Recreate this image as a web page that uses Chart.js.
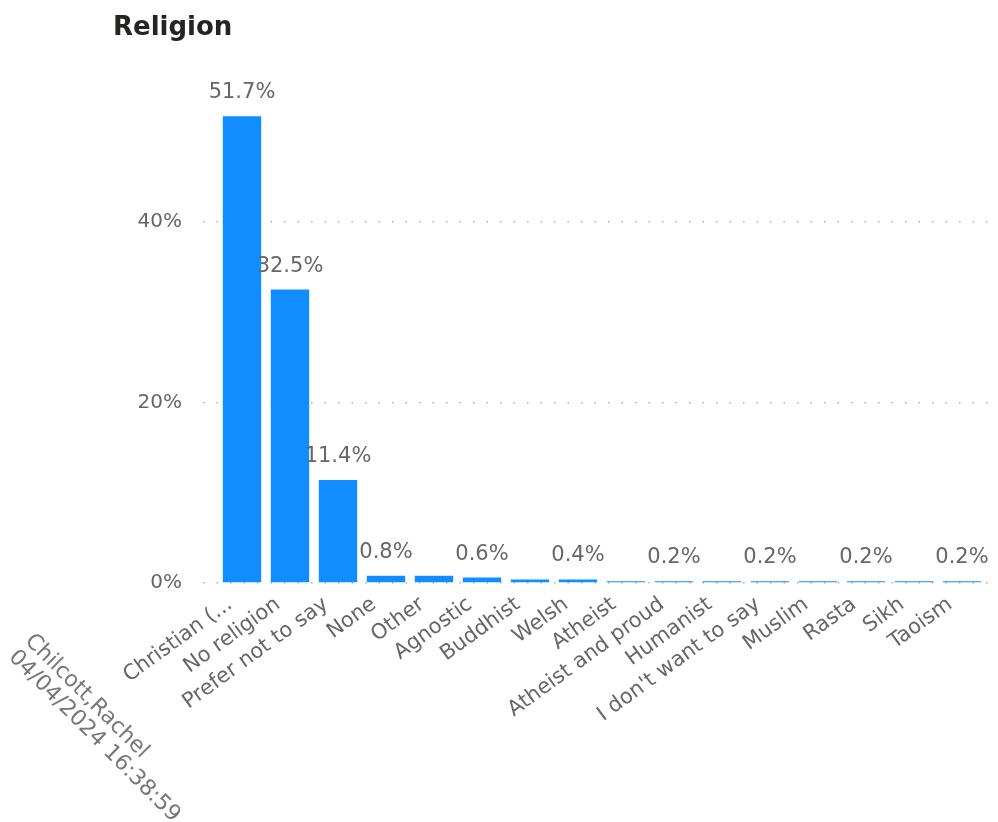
<!DOCTYPE html>
<html>
<head>
<meta charset="utf-8">
<script src="https://cdn.jsdelivr.net/npm/chart.js@4.4.1/dist/chart.umd.min.js"></script>
<style>
  html, body { margin: 0; padding: 0; background: #fff; }
  #wrap { width: 998px; height: 822px; }
</style>
</head>
<body>
<div id="wrap"><canvas id="religionChart"></canvas></div>
<script>
const categories = ['Christian (...', 'No religion', 'Prefer not to say', 'None', 'Other', 'Agnostic', 'Buddhist', 'Welsh',
    'Atheist', 'Atheist and proud', 'Humanist', "I don't want to say", 'Muslim', 'Rasta', 'Sikh', 'Taoism'];
const percentages = [51.7, 32.5, 11.4, 0.8, 0.8, 0.6, 0.4, 0.4, 0.2, 0.2, 0.2, 0.2, 0.2, 0.2, 0.2, 0.2];
const yTicks = [0, 20, 40];
const watermark = ['Chilcott,Rachel', '04/04/2024 16:38:59'];

document.addEventListener('DOMContentLoaded', () => {
    const ctx = document.getElementById('religionChart').getContext('2d');
    const fontFamily = '"DejaVu Sans", sans-serif';
    const textGrey = '#666666';

    // value labels above bars, skipped when they would collide (like Power BI does)
    const valueLabels = {
        id: 'valueLabels',
        afterDatasetsDraw(chart) {
            const c = chart.ctx;
            const meta = chart.getDatasetMeta(0);
            const placed = [];
            c.save();
            c.font = '21px ' + fontFamily;
            c.fillStyle = textGrey;
            c.textAlign = 'center';
            c.textBaseline = 'alphabetic';
            meta.data.forEach((bar, i) => {
                const text = percentages[i].toFixed(1) + '%';
                const w = c.measureText(text).width;
                const y = bar.y - 18;
                const box = { l: bar.x - w / 2 - 2, r: bar.x + w / 2 + 2, t: y - 16, b: y + 4 };
                if (placed.some(p => box.l < p.r && box.r > p.l && box.t < p.b && box.b > p.t)) return;
                placed.push(box);
                c.fillText(text, bar.x, y);
            });
            c.restore();
        }
    };

    const watermarkText = {
        id: 'watermarkText',
        afterDraw(chart) {
            const c = chart.ctx;
            c.save();
            c.translate(36, 630);
            c.rotate(Math.PI / 4);
            c.font = '22px ' + fontFamily;
            c.fillStyle = '#777777';
            c.textBaseline = 'top';
            watermark.forEach((line, i) => c.fillText(line, 0, i * 23));
            c.restore();
        }
    };

    new Chart(ctx, {
        type: 'bar',
        data: {
            datasets: [{
                label: 'Religion',
                data: percentages.map((v, i) => ({ x: i, y: v })),
                backgroundColor: '#118DFF',
                barPercentage: 0.8,
                categoryPercentage: 1
            }]
        },
        options: {
            responsive: true,
            maintainAspectRatio: false,
            animation: false,
            layout: { padding: { left: 113, right: 0, top: 0, bottom: 0 } },
            plugins: {
                legend: { display: false },
                tooltip: { enabled: false },
                title: {
                    display: true,
                    text: 'Religion',
                    align: 'start',
                    color: '#252423',
                    font: { family: fontFamily, size: 26, weight: 'bold' },
                    padding: { top: 13, bottom: -3 }
                }
            },
            scales: {
                x: {
                    type: 'linear',
                    offset: false,
                    min: -0.8125,
                    max: 15.75,
                    grid: { display: false, drawTicks: false },
                    border: { display: false },
                    ticks: {
                        stepSize: 1,
                        includeBounds: false,
                        autoSkip: false,
                        maxTicksLimit: 20,
                        minRotation: 36,
                        maxRotation: 36,
                        padding: 9,
                        labelOffset: -12,
                        color: textGrey,
                        font: { family: fontFamily, size: 21 },
                        callback: v => categories[v] ?? ''
                    },
                    afterFit: s => { s.height = 239; }
                },
                y: {
                    min: 0,
                    max: 60,
                    afterBuildTicks: s => { s.ticks = yTicks.map(v => ({ value: v })); },
                    grid: { color: '#B0B0B0', lineWidth: 1.5, drawTicks: false },
                    border: { display: false, dash: [1.5, 12] },
                    ticks: {
                        padding: 21,
                        color: textGrey,
                        font: { family: fontFamily, size: 20 },
                        callback: v => v + '%'
                    },
                    afterFit: s => { s.width = 90; }
                }
            }
        },
        plugins: [valueLabels, watermarkText]
    });
});
</script>
</body>
</html>
